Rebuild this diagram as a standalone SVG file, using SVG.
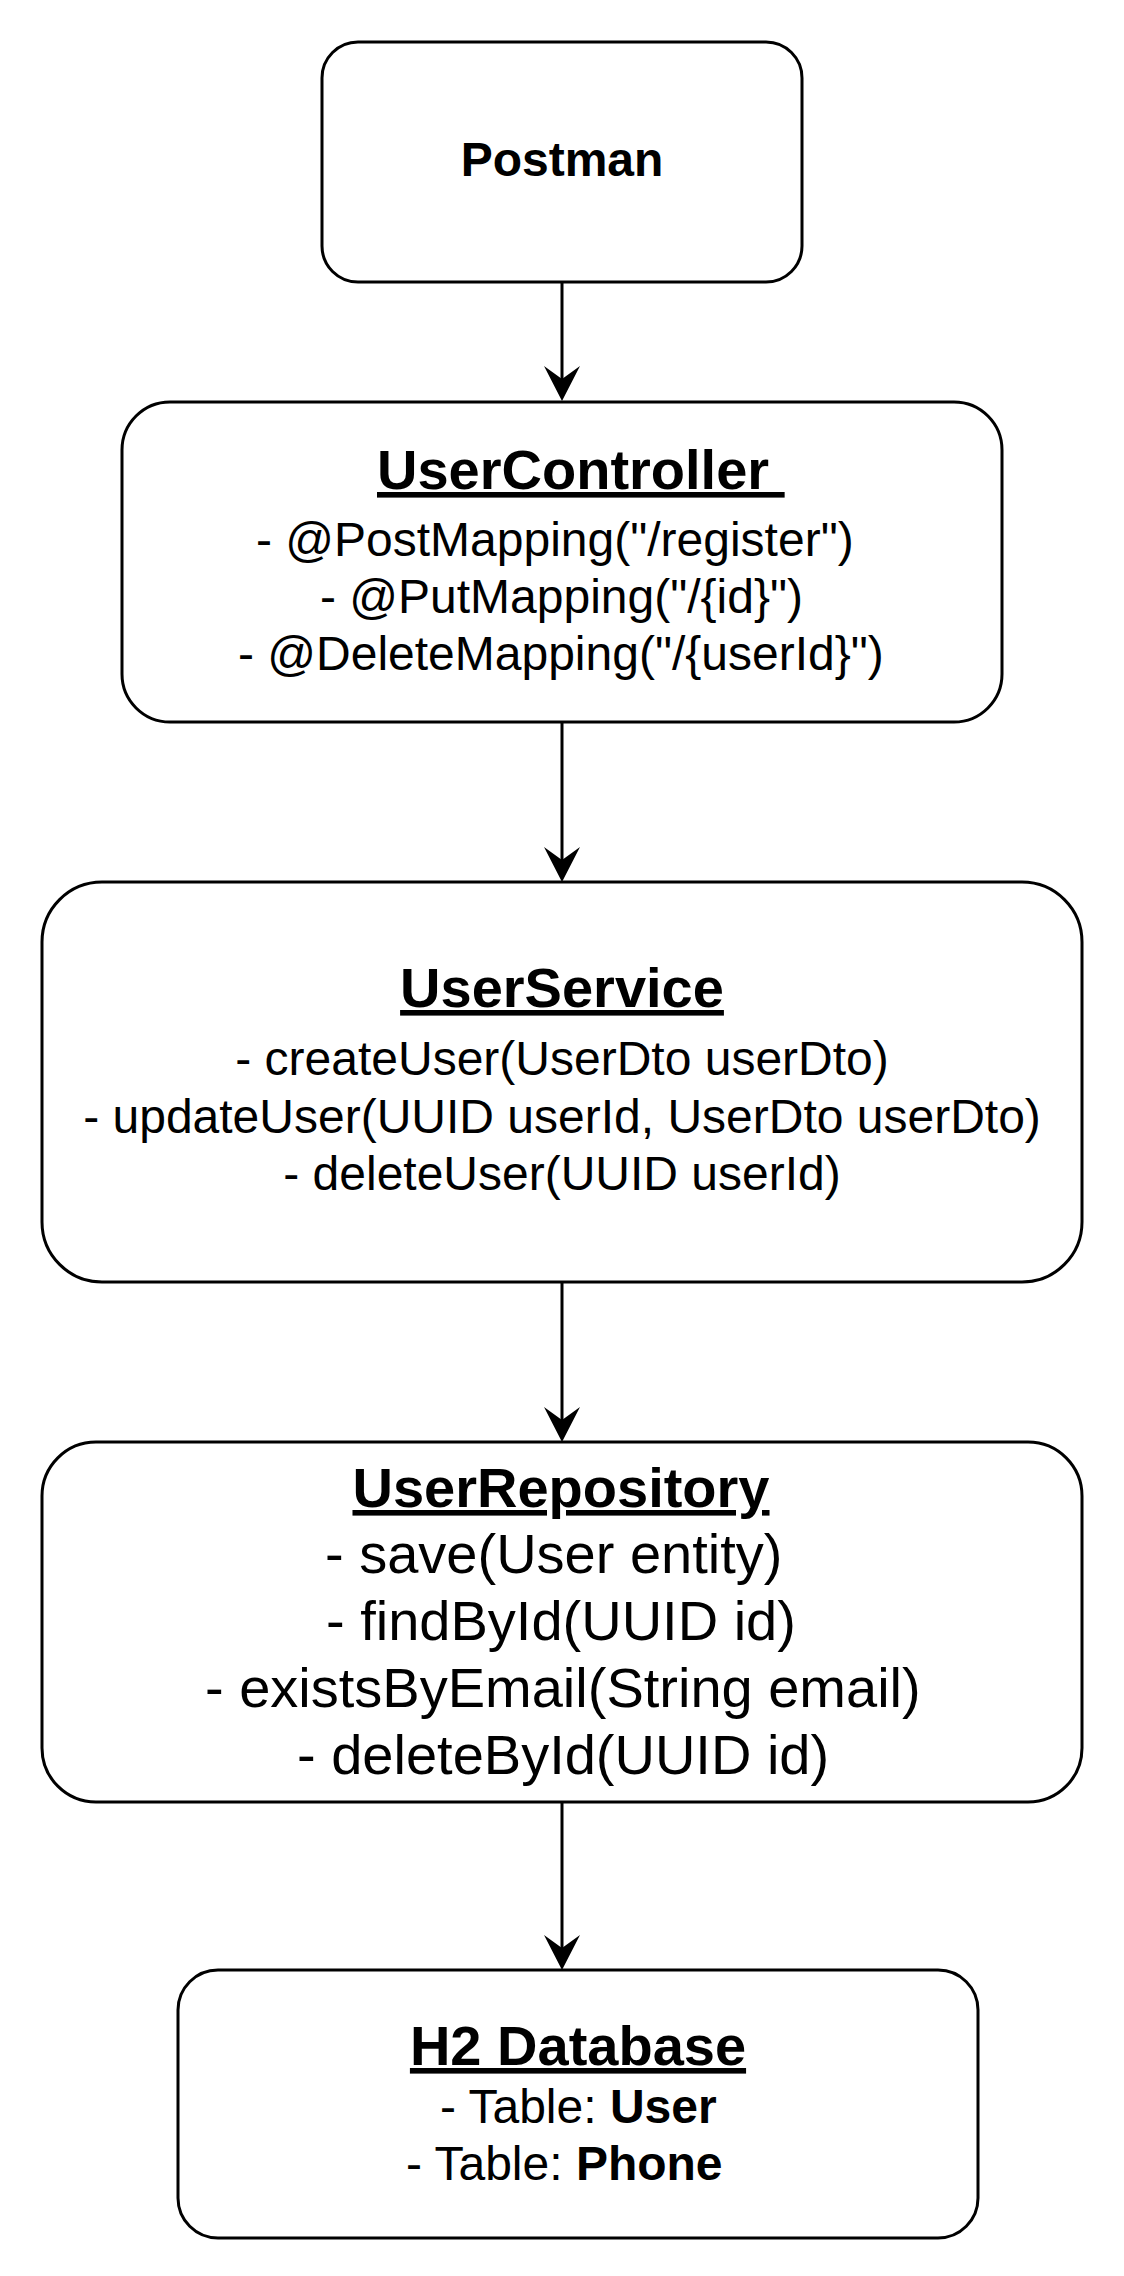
<svg xmlns="http://www.w3.org/2000/svg" width="1124" height="2276" viewBox="0 0 1124 2276">
  <style>
    .box { fill: #ffffff; stroke: #000000; stroke-width: 3; }
    .edge { fill: none; stroke: #000000; stroke-width: 3; }
    text { font-family: "Liberation Sans", Arial, Helvetica, sans-serif; fill: #000000; }
    .t48 { font-size: 48px; }
    .t56 { font-size: 56px; }
    .b { font-weight: bold; }
    .u { text-decoration: underline; }
    .m { text-anchor: middle; }
  </style>
  <defs>
    <marker id="arrow" markerUnits="userSpaceOnUse" markerWidth="40" markerHeight="40" viewBox="0 0 40 40" refX="15" refY="20" orient="auto">
      <path d="M0,2 L35,20 L0,38 L13,20 Z" fill="#000000"/>
    </marker>
  </defs>
  <rect x="0" y="0" width="1124" height="2276" fill="#ffffff"/>

  <g id="connectors">
    <line class="edge" x1="562" y1="282" x2="562" y2="381" marker-end="url(#arrow)"/>
    <line class="edge" x1="562" y1="722" x2="562" y2="862" marker-end="url(#arrow)"/>
    <line class="edge" x1="562" y1="1282" x2="562" y2="1422" marker-end="url(#arrow)"/>
    <line class="edge" x1="562" y1="1802" x2="562" y2="1950" marker-end="url(#arrow)"/>
  </g>

  <g id="postman">
    <rect class="box" x="322" y="42" width="480" height="240" rx="36" ry="36"/>
    <text class="t48 b m" x="562" y="176">Postman</text>
  </g>

  <g id="user-controller">
    <rect class="box" x="122" y="402" width="880" height="320" rx="48" ry="48"/>
    <text class="t56 b u" x="377" y="489">UserController&#160;</text>
    <text class="t48" x="256" y="556">- @PostMapping("/register")</text>
    <text class="t48" x="320" y="613">- @PutMapping("/{id}")</text>
    <text class="t48" x="238" y="670">- @DeleteMapping("/{userId}")</text>
  </g>

  <g id="user-service">
    <rect class="box" x="42" y="882" width="1040" height="400" rx="60" ry="60"/>
    <text class="t56 b u m" x="562" y="1007">UserService</text>
    <text class="t48 m" x="562" y="1075">- createUser(UserDto userDto)</text>
    <text class="t48 m" x="562" y="1133">- updateUser(UUID userId, UserDto userDto)</text>
    <text class="t48 m" x="562" y="1190">- deleteUser(UUID userId)</text>
  </g>

  <g id="user-repository">
    <rect class="box" x="42" y="1442" width="1040" height="360" rx="54" ry="54"/>
    <text class="t56 b u m" x="561" y="1507">UserRepository</text>
    <text class="t56" x="325" y="1573">- save(User entity)</text>
    <text class="t56" x="326" y="1640">- findById(UUID id)</text>
    <text class="t56" x="205" y="1707">- existsByEmail(String email)</text>
    <text class="t56" x="297" y="1774">- deleteById(UUID id)</text>
  </g>

  <g id="h2-database">
    <rect class="box" x="178" y="1970" width="800" height="268" rx="40" ry="40"/>
    <text class="t56 b u m" x="578" y="2065">H2 Database</text>
    <text class="t48" x="440" y="2123">- Table: <tspan class="b">User</tspan></text>
    <text class="t48" x="406" y="2180">- Table: <tspan class="b">Phone</tspan></text>
  </g>
</svg>
